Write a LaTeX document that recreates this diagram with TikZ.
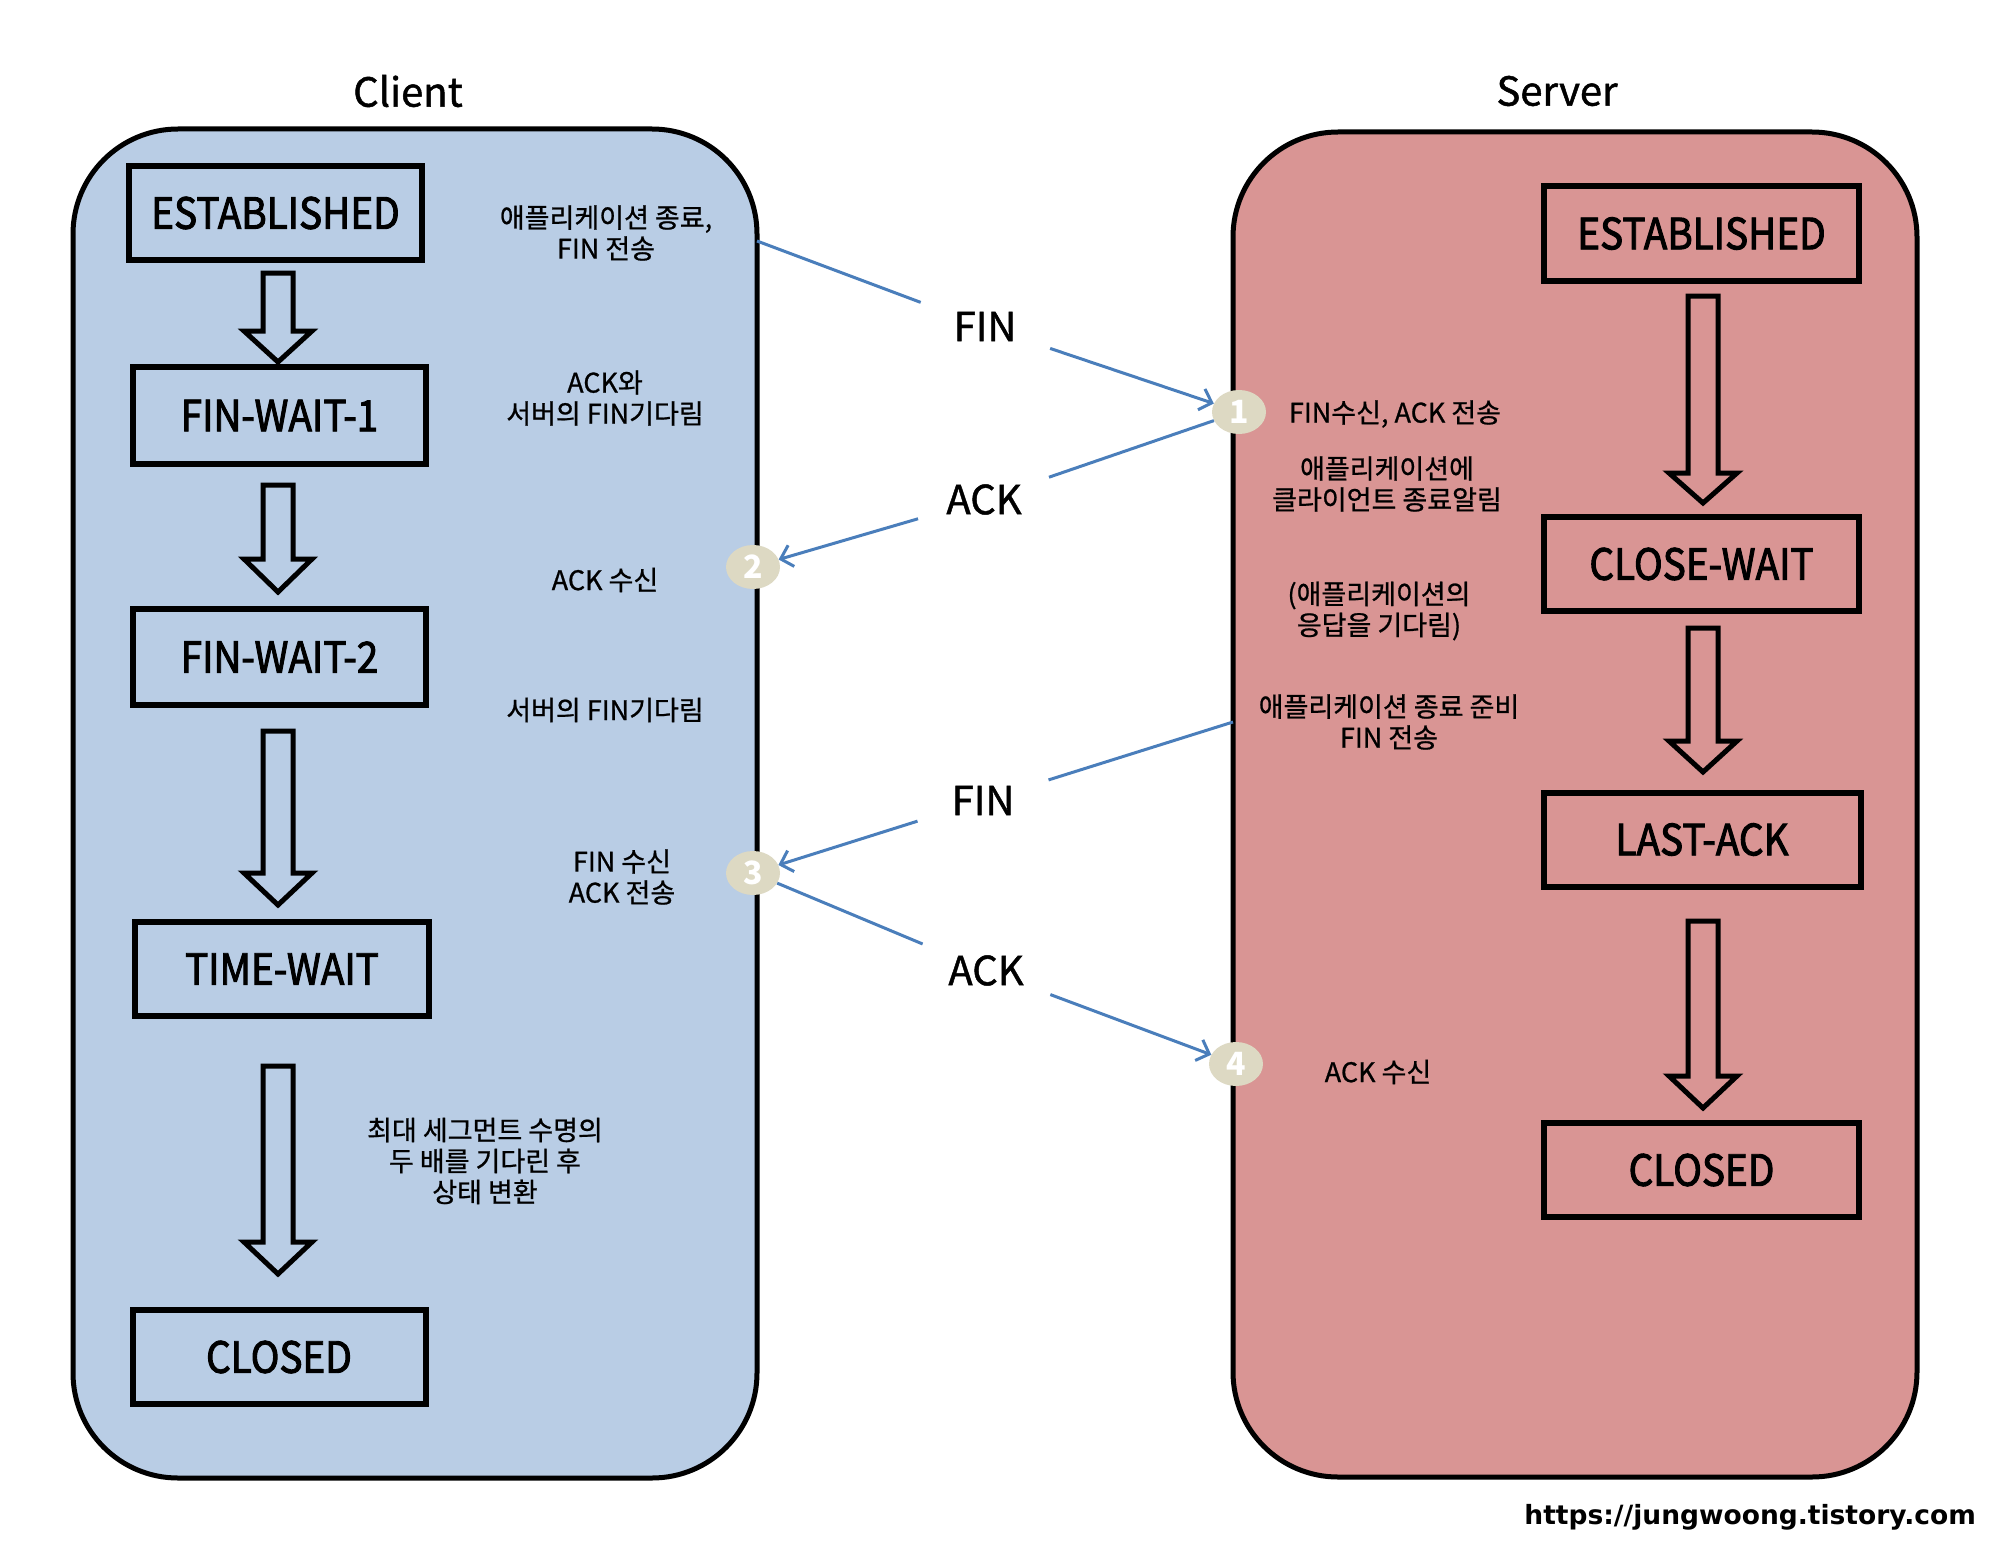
\documentclass[tikz,border=0pt]{standalone}
\usepackage{fontspec}
\setmainfont{Noto Sans CJK KR}
\newfontfamily\boxfont[FakeBold=2.2,FakeStretch=0.9]{Noto Sans CJK KR}
\newfontfamily\labelfont[FakeBold=1.2]{Noto Sans CJK KR}
\newfontfamily\notefont[FakeBold=0.8]{Noto Sans CJK KR}
\newfontfamily\urlfont{DejaVu Sans}
\usetikzlibrary{shapes.geometric,arrows.meta,calc}
\definecolor{clientbg}{RGB}{185,205,229}
\definecolor{serverbg}{RGB}{217,149,148}
\definecolor{badgefill}{RGB}{221,217,195}
\definecolor{msgblue}{RGB}{74,126,187}
\newcommand\hollowdown[4]{%
  \draw[hollow] ({#1-15},#2) -- ({#1+15},#2) -- ({#1+15},#3) -- ({#1+34},#3)
    -- (#1,#4) -- ({#1-34},#3) -- ({#1-15},#3) -- cycle;}
\begin{document}
\begin{tikzpicture}[x=1pt,y=-1pt,
  lane/.style={draw=black,line width=5pt,rounded corners=105pt,inner sep=0pt},
  statebox/.style={draw=black,line width=6pt,minimum width=293pt,minimum height=94pt,inner sep=0pt,
    font=\boxfont\fontsize{43}{50}\selectfont},
  sstatebox/.style={statebox,minimum width=315pt},
  note/.style={align=center,font=\notefont\fontsize{27}{31}\selectfont,inner sep=0pt},
  lanetitle/.style={font=\labelfont\fontsize{40}{48}\selectfont,inner sep=0pt},
  msglabel/.style={circle,minimum size=137pt,inner sep=0pt,font=\labelfont\fontsize{40}{48}\selectfont},
  badge/.style={ellipse,fill=badgefill,minimum width=54pt,minimum height=44pt,inner sep=0pt,
    text=white,font=\fontsize{32}{32}\selectfont\bfseries},
  msgline/.style={draw=msgblue,line width=3pt},
  msgarrow/.style={msgline,-{Straight Barb[length=11pt,width=22pt,line width=3pt]}},
  hollow/.style={draw=black,line width=5pt,line join=miter,fill=none}
]
\useasboundingbox (0,0) rectangle (2000,1541);

% lanes
\node[lane,fill=clientbg,minimum width=684pt,minimum height=1349pt] (client) at (415,803.5) {};
\node[lane,fill=serverbg,minimum width=684pt,minimum height=1345pt] (server) at (1575,804.5) {};
\node[lanetitle] (clienttitle) at (408,91) {Client};
\node[lanetitle] (servertitle) at (1557,91) {Server};

% client states
\node[statebox] (cest) at (275.5,213) {ESTABLISHED};
\node[statebox,minimum height=97pt] (cfw1) at (279.5,415.5) {FIN-WAIT-1};
\node[statebox,minimum height=96pt] (cfw2) at (279.5,657) {FIN-WAIT-2};
\node[statebox,minimum width=294pt] (ctw) at (282,969) {TIME-WAIT};
\node[statebox] (ccl) at (279,1357) {CLOSED};

\hollowdown{278}{273}{331}{362}
\hollowdown{278}{485}{559}{592}
\hollowdown{278}{731}{873}{905}
\hollowdown{278}{1066}{1242}{1274}

% server states
\node[sstatebox] (sest) at (1701.5,233.5) {ESTABLISHED};
\node[sstatebox] (scw) at (1701.5,564) {CLOSE-WAIT};
\node[sstatebox,minimum width=317pt] (sla) at (1702,839.5) {LAST-ACK};
\node[sstatebox] (scl) at (1701.5,1170) {CLOSED};

\hollowdown{1703}{296}{473}{503}
\hollowdown{1703}{628}{741}{772}
\hollowdown{1703}{921}{1076}{1108}

% client notes
\node[note] (n1) at (606,233) {애플리케이션 종료,\\FIN 전송};
\node[note] (n2) at (605,398) {ACK와\\서버의 FIN기다림};
\node[note] (n3) at (605,580) {ACK 수신};
\node[note] (n4) at (605,710) {서버의 FIN기다림};
\node[note] (n5) at (622,877) {FIN 수신\\ACK 전송};
\node[note] (n6) at (485,1161) {최대 세그먼트 수명의\\두 배를 기다린 후\\상태 변환};

% server notes
\node[note] (s1) at (1395,414) {FIN수신, ACK 전송};
\node[note] (s2) at (1387,484) {애플리케이션에\\클라이언트 종료알림};
\node[note] (s3) at (1379,611) {(애플리케이션의\\응답을 기다림)};
\node[note] (s4) at (1389,722) {애플리케이션 종료 준비\\FIN 전송};
\node[note] (s5) at (1378,1072) {ACK 수신};

% badges
\node[badge] (b1) at (1239,412) {1};
\node[badge] (b2) at (753,567) {2};
\node[badge] (b3) at (753,873) {3};
\node[badge] (b4) at (1236,1064) {4};

% message labels
\node[msglabel] (fin1) at (985,326.5) {FIN};
\node[msglabel] (ack1) at (984,499.5) {ACK};
\node[msglabel] (fin2) at (983,800.5) {FIN};
\node[msglabel] (ack2) at (986,970.5) {ACK};

\coordinate (cout) at (757,241);
\coordinate (sout) at (1233,722);

% messages
\draw[msgline] (cout) -- (fin1);
\draw[msgarrow] (fin1) -- (b1);
\draw[msgline] (b1) -- (ack1);
\draw[msgarrow] (ack1) -- (b2);
\draw[msgline] (sout) -- (fin2);
\draw[msgarrow] (fin2) -- (b3);
\draw[msgline] (b3) -- (ack2);
\draw[msgarrow] (ack2) -- (b4);

\node[anchor=east,inner sep=0pt,font=\urlfont\bfseries\fontsize{26.5}{30}\selectfont] (url) at (1976,1517) {https://jungwoong.tistory.com};
\end{tikzpicture}
\end{document}
